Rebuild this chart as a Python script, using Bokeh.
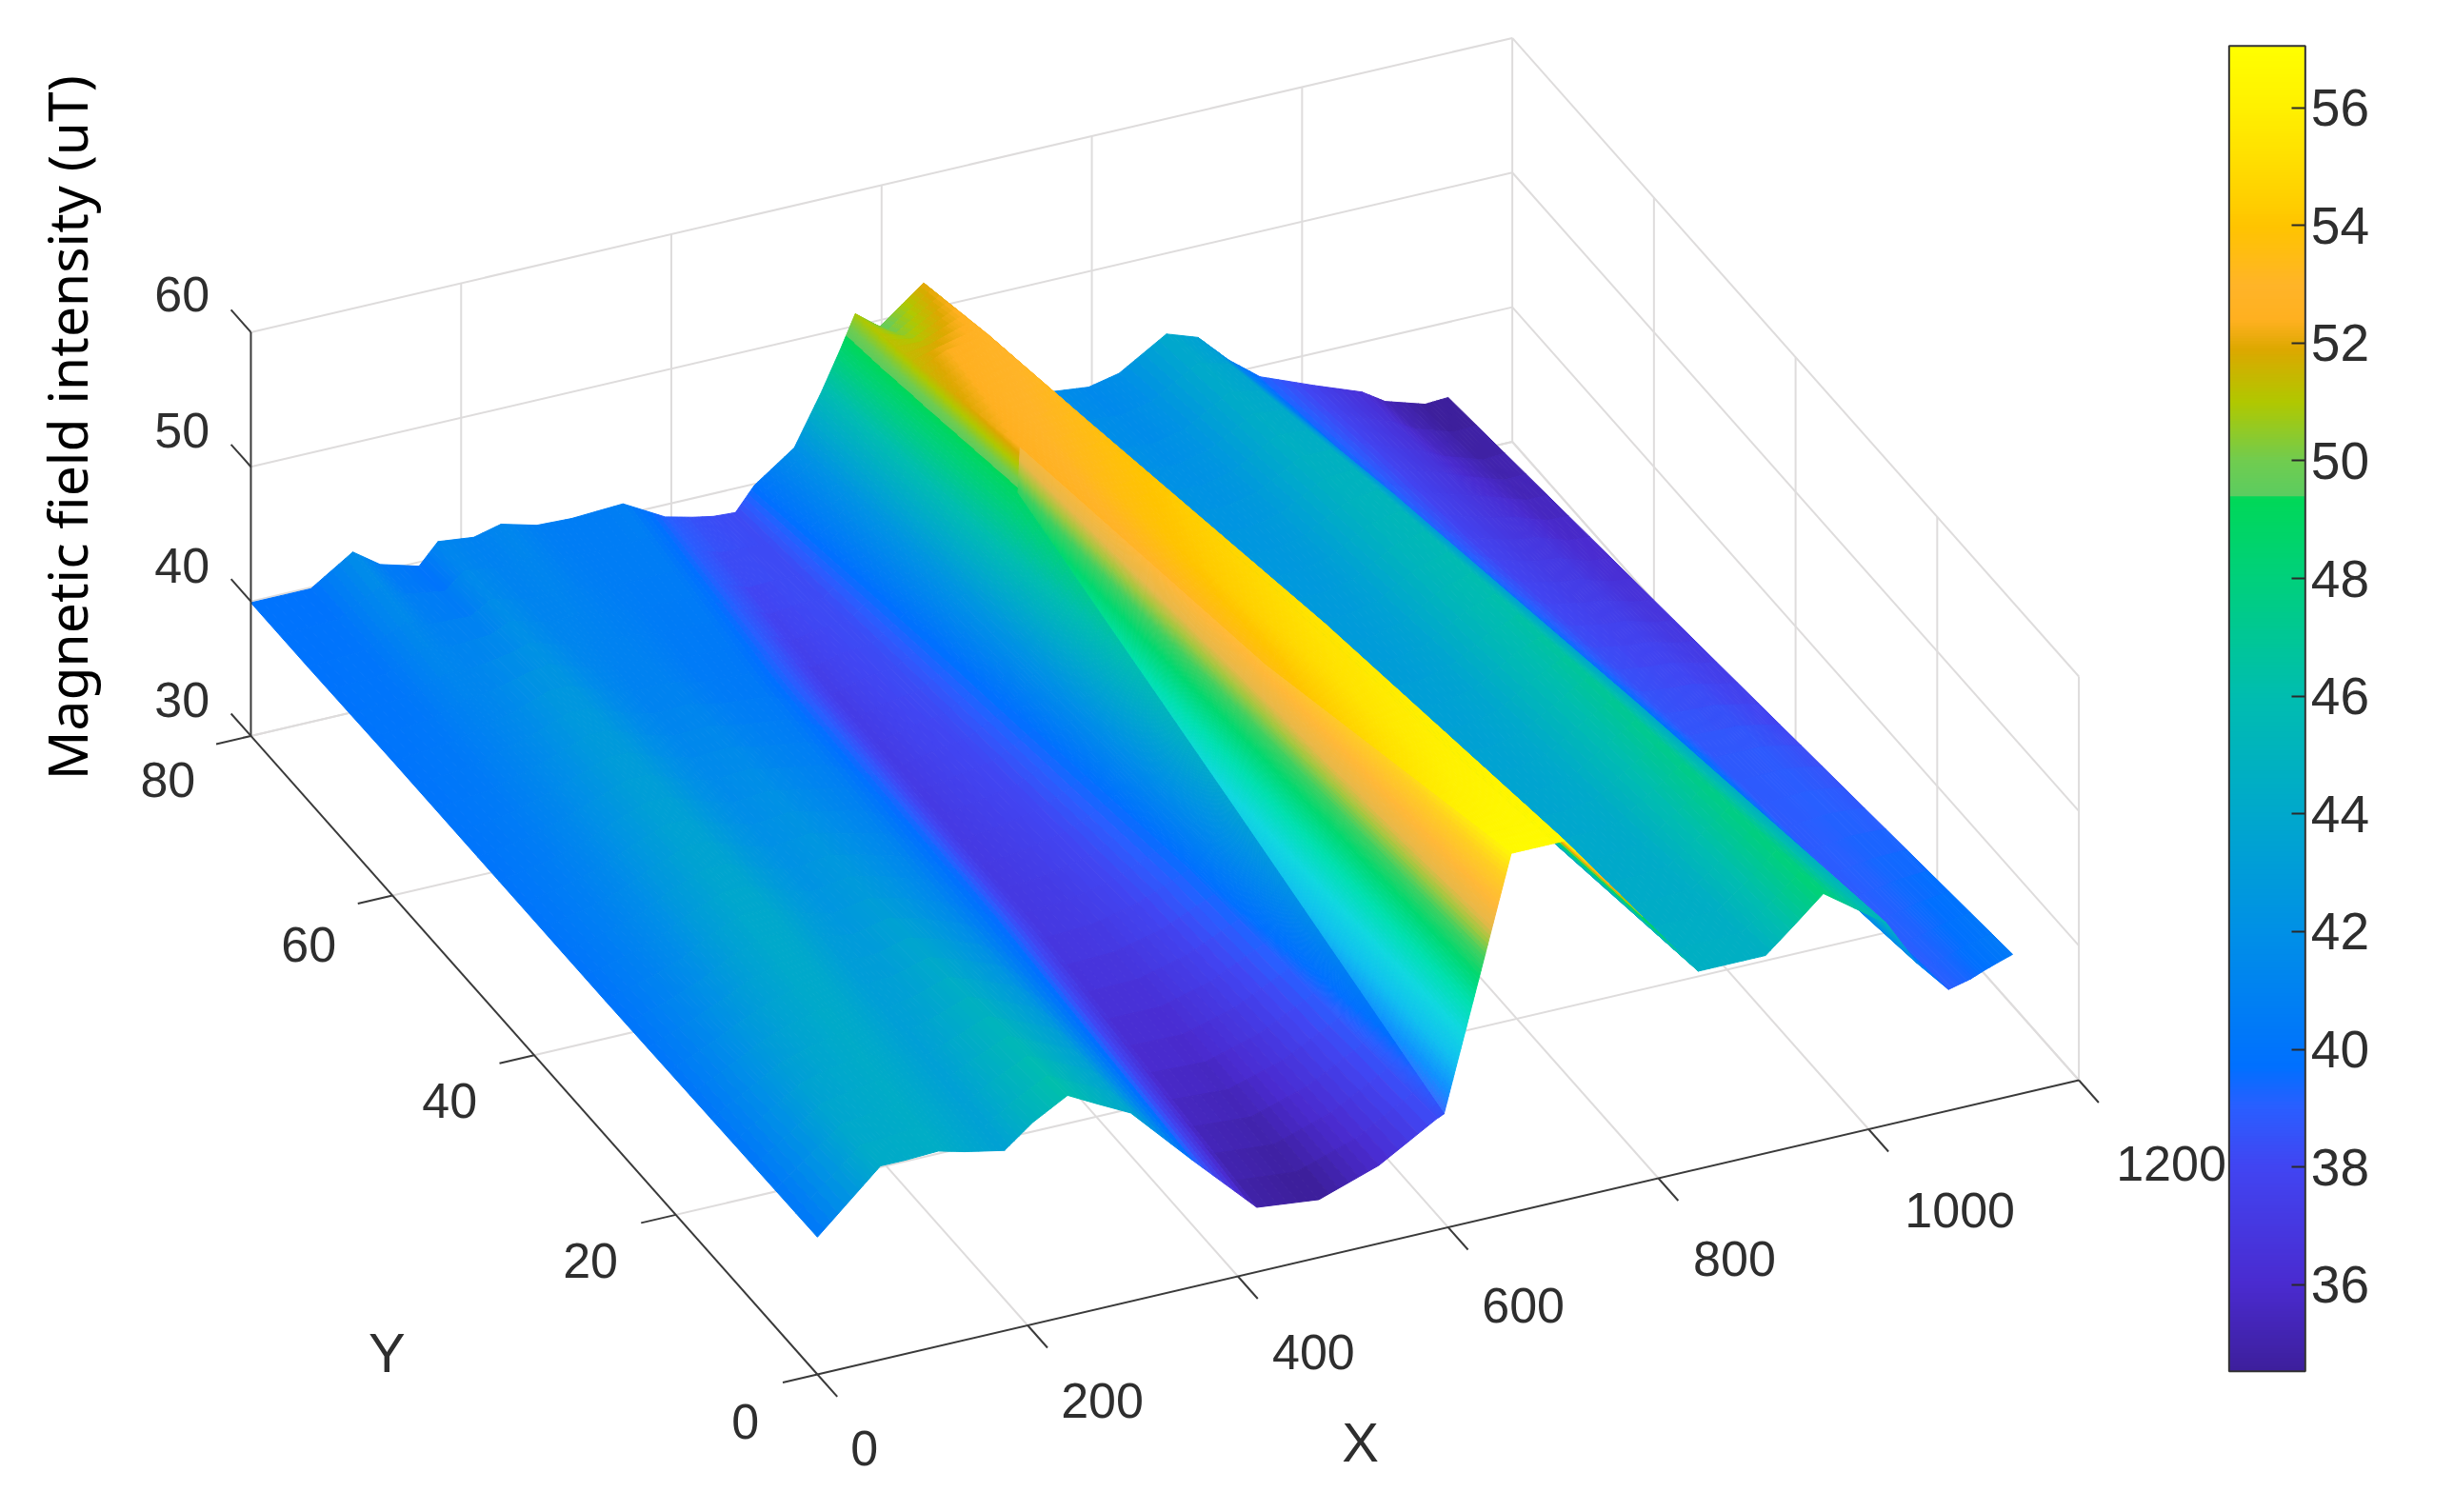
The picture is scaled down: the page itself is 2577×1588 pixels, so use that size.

from bokeh.plotting import figure
from bokeh.models import ColumnDataSource, Range1d, LinearColorMapper, ColorBar, FixedTicker
from bokeh.transform import transform
from bokeh.core.properties import value
from bokeh.embed import file_html
from bokeh.resources import INLINE
import math

# ---- data: one x and one z list per row of the surface ----
y_rows = [80, 72, 60, 30, 0]
x_y80 = [0, 57, 97, 123, 160, 178, 212, 238, 272, 305, 354, 394, 420, 440, 461, 479, 517, 543, 562, 575, 598, 640,
         762, 797, 826, 871, 901, 930, 960, 1012, 1057, 1079, 1117, 1139]
z_y80 = [39.9, 39.9, 41.9, 40.5, 39.7, 41.2, 40.9, 41.4, 40.7, 40.6, 40.8, 39.1, 38.6, 38.3, 38.2, 39.9, 42.0, 45.7, 48.7, 50.9, 49.5, 52.0,
         41.7, 41.4, 41.9, 44.0, 43.2, 41.0, 39.2, 37.6, 36.3, 35.2, 34.3, 34.4]
x_y72 = [0, 55, 93, 119, 155, 174, 209, 235, 269, 301, 348, 390, 420, 444, 468, 493, 528, 554, 575, 584, 607, 647,
         770, 804, 834, 877, 907, 939, 968, 1019, 1061, 1082, 1118, 1139]
z_y72 = [39.9, 40.1, 41.5, 40.9, 40.8, 41.7, 41.1, 41.2, 40.8, 40.6, 40.6, 39.0, 38.1, 38.2, 38.2, 39.9, 42.2, 45.8, 48.8, 51.5, 52.3, 52.8,
         42.0, 41.8, 42.3, 44.3, 43.9, 41.6, 39.4, 37.7, 36.6, 35.8, 34.9, 35.0]
x_y60 = [0, 53, 88, 114, 149, 168, 204, 230, 264, 295, 340, 385, 420, 449, 479, 512, 545, 570, 595, 597, 620, 658,
         781, 815, 845, 886, 915, 952, 981, 1028, 1067, 1087, 1119, 1139]
z_y60 = [40.0, 40.3, 41.0, 41.5, 42.5, 42.5, 41.5, 41.0, 41.0, 40.5, 40.3, 38.8, 37.3, 38.0, 38.3, 39.9, 42.5, 46.0, 49.0, 52.4, 53.0, 53.5,
         42.5, 42.5, 43.0, 44.8, 45.0, 42.5, 39.6, 37.8, 37.0, 36.8, 36.0, 35.9]
x_y30 = [0, 46, 74, 99, 132, 154, 191, 217, 251, 280, 319, 371, 419, 463, 507, 556, 575, 590, 598, 628, 652, 685,
         809, 843, 872, 908, 936, 984, 1019, 1055, 1081, 1099, 1122, 1138]
z_y30 = [40.0, 41.0, 41.8, 43.0, 44.0, 44.0, 43.0, 42.5, 43.0, 42.5, 41.5, 39.5, 37.0, 37.2, 38.0, 39.6, 41.2, 42.5, 43.5, 53.5, 54.8, 55.5,
         43.5, 43.5, 44.0, 45.8, 47.0, 44.0, 40.5, 38.8, 38.8, 38.8, 38.5, 38.2]
x_y0 = [0, 40, 60, 85, 115, 140, 178, 205, 238, 265, 298, 357, 418, 477, 534, 590, 593, 595, 596, 660, 685, 711,
        838, 870, 902, 930, 957, 1017, 1046, 1076, 1097, 1110, 1125, 1137]
z_y0 = [40.2, 43.0, 44.4, 44.4, 44.5, 44.0, 43.4, 45.0, 46.4, 45.3, 44.0, 39.4, 34.8, 34.3, 35.8, 38.3, 38.4, 38.5, 38.5, 56.7, 56.7, 56.7,
        44.7, 44.7, 44.7, 46.5, 48.3, 45.0, 41.5, 39.0, 39.4, 39.8, 40.2, 40.5]
row_x = [x_y80, x_y72, x_y60, x_y30, x_y0]
row_z = [z_y80, z_y72, z_y60, z_y30, z_y0]

x_ticks = [0, 200, 400, 600, 800, 1000, 1200]
y_ticks = [0, 20, 40, 60, 80]
z_ticks = [30, 40, 50, 60]
cbar_ticks = [36, 38, 40, 42, 44, 46, 48, 50, 52, 54, 56]
cbar_low, cbar_high = 34.53, 57.05
z_title = "Magnetic field intensity (uT)"

color_stops = [(34.53, "#3d1f9c"), (36, "#4a2bd0"), (38, "#4145f2"), (39, "#2a5eff"), (39.7, "#0070ff"),
               (42, "#0090e6"), (44, "#00a8cc"), (46, "#00bdb0"), (48, "#00d07c"), (49.38, "#00d858"),
               (49.42, "#5ccc60"), (50, "#70cc50"), (51, "#b0c800"), (51.9, "#dca800"), (52.4, "#ffb020"),
               (53, "#ffb428"), (54, "#ffc400"), (55, "#ffdc00"), (56, "#fff000"), (57.05, "#ffff00")]
# the finely meshed slope reads lighter than the colour bar
fan_stops = [(34.53, "#4a40e0"), (38, "#4a60ff"), (40, "#1090ff"), (42, "#10c0f0"), (44, "#10d8e0"), (46, "#00e0b0"),
             (48, "#00d870"), (49.4, "#40d060"), (50.5, "#a0c840"), (51.5, "#e8b848"), (53, "#ffb838"),
             (55, "#ffd020"), (57.05, "#ffff00")]

# ---- view: page pixels of the box corners --------------------------------
S = 2577 / 1568
O = (522 * S, 878 * S)
VX = (806 * S / 1200, -188 * S / 1200)
VY = (-362 * S / 80, -408 * S / 80)
VZ = -258 * S / 30

def proj(x, y, z):
    return (O[0] + VX[0] * x + VY[0] * y, O[1] + VX[1] * x + VY[1] * y + VZ * (z - 30))

def hex2rgb(h):
    return tuple(int(h[i:i + 2], 16) for i in (1, 3, 5))

def make_palette(stops, n=512):
    out = []
    for k in range(n):
        v = cbar_low + (cbar_high - cbar_low) * k / (n - 1)
        for (a, ca), (b, cb) in zip(stops, stops[1:]):
            if v <= b:
                t = (v - a) / (b - a)
                c0, c1 = hex2rgb(ca), hex2rgb(cb)
                out.append("#%02x%02x%02x" % tuple(round(c0[j] + (c1[j] - c0[j]) * t) for j in range(3)))
                break
        else:
            out.append(stops[-1][1])
    return out

mapper = LinearColorMapper(palette=make_palette(color_stops), low=cbar_low, high=cbar_high)
fan_mapper = LinearColorMapper(palette=make_palette(fan_stops), low=cbar_low, high=cbar_high)

W, H = 2561, 1572
p = figure(width=W, height=H, x_range=Range1d(0, W), y_range=Range1d(H, 0),
           output_backend="svg", toolbar_location=None, min_border=0, outline_line_color=None,
           background_fill_color="white", border_fill_color="white")
p.axis.visible = False
p.grid.visible = False

# ---- grid ----------------------------------------------------------------
GRID = "#dedcdc"
def seg(pairs, color, width):
    xs, ys = [], []
    for a, b in pairs:
        pa, pb = proj(*a), proj(*b)
        xs.append([pa[0], pb[0]]); ys.append([pa[1], pb[1]])
    p.multi_line(xs, ys, line_color=color, line_width=width)

xmax, ymax, zmin, zmax = x_ticks[-1], y_ticks[-1], z_ticks[0], z_ticks[-1]
floor = [((x, 0, zmin), (x, ymax, zmin)) for x in x_ticks[1:]] + [((0, y, zmin), (xmax, y, zmin)) for y in y_ticks[1:]]
back = [((x, ymax, zmin), (x, ymax, zmax)) for x in x_ticks[1:]] + [((0, ymax, z), (xmax, ymax, z)) for z in z_ticks]
side = [((xmax, y, zmin), (xmax, y, zmax)) for y in y_ticks[:-1]] + [((xmax, 0, z), (xmax, ymax, z)) for z in z_ticks]
seg(floor + back + side, GRID, 2)

# ---- surface, painted far to near ----------------------------------------
HOT = range(15, 22)   # columns of the ridge flank, where colours change fast
FAN = 18
def pt(r, i, u, v):
    xa = row_x[r][i] + (row_x[r][i + 1] - row_x[r][i]) * u
    za = row_z[r][i] + (row_z[r][i + 1] - row_z[r][i]) * u
    xb = row_x[r + 1][i] + (row_x[r + 1][i + 1] - row_x[r + 1][i]) * u
    zb = row_z[r + 1][i] + (row_z[r + 1][i + 1] - row_z[r + 1][i]) * u
    return xa + (xb - xa) * v, y_rows[r] + (y_rows[r + 1] - y_rows[r]) * v, za + (zb - za) * v

groups = {"far": ([], [], []), "fan": ([], [], []), "near": ([], [], [])}
for i in range(len(x_y80) - 2, -1, -1):
    nu = 60 if i == FAN else (12 if i in HOT else 6)
    for r in range(len(y_rows) - 1):
        nv = int((y_rows[r] - y_rows[r + 1]) * (1.0 if i in HOT else 0.34)) or 1
        key = "fan" if (i == FAN and r > 1) else ("far" if i >= FAN else "near")
        gx, gy, gz = groups[key]
        for a in range(nu - 1, -1, -1):
            for b in range(nv):
                c = [pt(r, i, a / nu, b / nv), pt(r, i, (a + 1) / nu, b / nv),
                     pt(r, i, (a + 1) / nu, (b + 1) / nv), pt(r, i, a / nu, (b + 1) / nv)]
                sc = [proj(*k) for k in c]
                gx.append([s[0] for s in sc]); gy.append([s[1] for s in sc])
                gz.append(sum(k[2] for k in c) / 4)

for key, m in (("far", mapper), ("fan", fan_mapper), ("near", mapper)):
    gx, gy, gz = groups[key]
    src = ColumnDataSource(dict(xs=gx, ys=gy, z=gz))
    p.patches("xs", "ys", source=src, fill_color=transform("z", m), line_color=transform("z", m), line_width=1)

# ---- axes ----------------------------------------------------------------
AX = "#3a3a3a"
seg([((0, 0, zmin), (xmax, 0, zmin)), ((0, 0, zmin), (0, ymax, zmin)), ((0, ymax, zmin), (0, ymax, zmax))], AX, 2)
seg([((x, 0, zmin), (x, -2.8, zmin)) for x in x_ticks], AX, 2)
seg([((0, y, zmin), (-33, y, zmin)) for y in y_ticks], AX, 2)
seg([((0, ymax, z), (0, ymax + 2.8, z)) for z in z_ticks], AX, 2)

# ---- text ----------------------------------------------------------------
ARIAL = value("Liberation Sans")
def labels(texts, xs, ys, size, font=ARIAL, angle=0, color="#2e2e2e"):
    p.text([x * S for x in xs], [y * S for y in ys], text=texts, text_font=font, text_font_size=value(size),
           text_align="center", text_baseline="middle", text_color=color, angle=angle)

labels([str(v) for v in z_ticks], [116] * 4, [447, 361, 275, 188], "52px")
labels([str(v) for v in y_ticks], [476, 377, 287, 197, 107], [908, 805, 703, 603, 498], "52px")
labels([str(v) for v in x_ticks], [552, 704, 839, 973, 1108, 1252, 1387], [925, 895, 864, 834, 804, 773, 743], "52px")
labels(["X"], [869], [921], "58px")
labels(["Y"], [247], [864], "58px")
labels([z_title], [42], [273], "57px", font=value("Noto Sans"), angle=math.pi / 2, color="#000000")

# ---- colour bar ----------------------------------------------------------
cb = ColorBar(color_mapper=mapper, ticker=FixedTicker(ticks=cbar_ticks), width=int(49 * S), height=int(847 * S),
              location=(1424 * S, H - 876 * S), padding=0, margin=0,
              bar_line_color="#333333", bar_line_width=2, major_tick_line_color="#2a2a2a", major_tick_line_width=2,
              major_tick_in=14, major_tick_out=0, minor_tick_line_color=None, label_standoff=6,
              major_label_text_font="Liberation Sans", major_label_text_font_size="55px",
              major_label_text_color="#2e2e2e", background_fill_color=None, border_line_color=None,
              scale_alpha=1.0)
p.add_layout(cb, "center")

open("out.html", "w").write(file_html(p, INLINE))
